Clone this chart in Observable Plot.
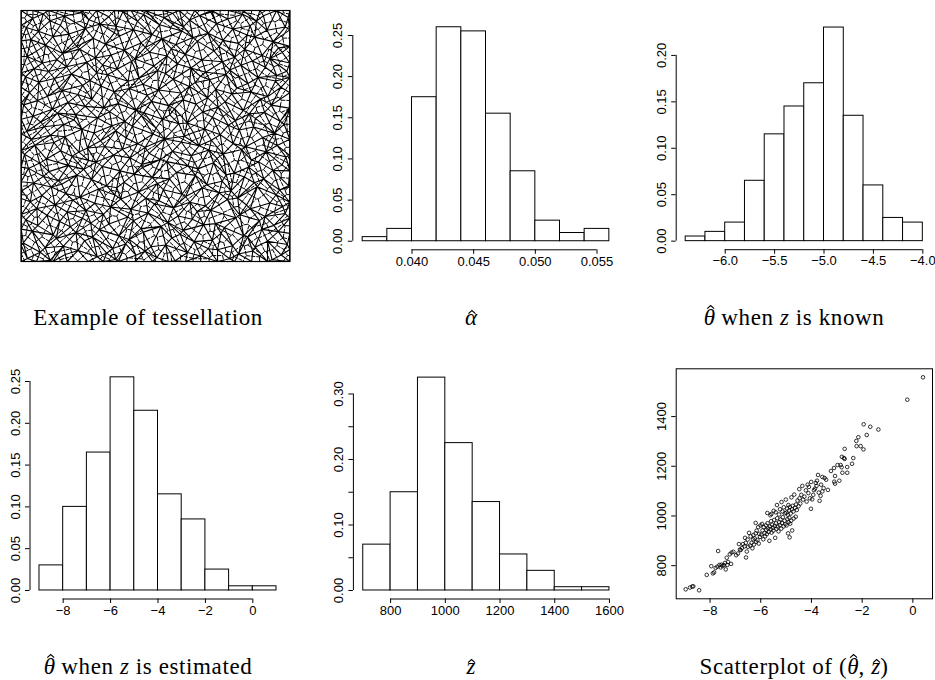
<!DOCTYPE html>
<html><head><meta charset="utf-8">
<script src="https://cdn.jsdelivr.net/npm/d3@7"></script>
<script src="https://cdn.jsdelivr.net/npm/@observablehq/plot@0.6"></script>
<style>
html,body{margin:0;padding:0;background:#fff;}
#page{position:relative;width:935px;height:680px;overflow:hidden;background:#fff;}
.panel{position:absolute;}
.panel svg{overflow:visible;}
.cap{position:absolute;font-family:"Liberation Serif","DejaVu Serif",serif;font-size:23px;letter-spacing:0.6px;white-space:nowrap;line-height:23px;transform:translateX(-50%);color:#000;}
.acc{position:relative;display:inline-block;letter-spacing:0;}
.acc svg.hat{position:absolute;left:50%;margin-left:-3px;overflow:visible;}
.acc svg.hat.hi{top:-1px;}
.acc svg.hat.lo{top:4px;}
</style></head><body><div id="page"></div>
<script>
// ---------------- data ----------------
// Tessellation vertices (0..1000 square), interior points
const tessX = [
23,71,108,164,212,283,318,352,427,461,505,573,619,668,731,776,809,862,934,968,
8,89,131,157,236,266,341,389,402,483,538,561,644,697,712,787,843,871,917,991,
41,62,119,183,204,291,327,364,446,455,521,592,603,679,744,756,828,896,941,957,
17,96,143,171,228,259,306,397,418,472,546,584,637,655,723,799,814,887,908,983,
34,58,126,192,241,274,333,371,409,496,513,567,628,686,705,768,839,853,926,974,
3,77,112,166,219,288,349,356,437,464,529,599,612,673,737,781,806,879,949,962,
46,83,138,151,207,262,318,383,421,488,507,552,649,691,748,763,831,868,903,995,
27,69,103,176,233,279,302,368,449,451,542,578,621,658,716,793,847,884,937,971,
12,94,147,189,215,251,344,377,405,476,518,563,633,699,729,752,821,857,912,986,
38,51,122,163,247,296,311,391,433,462,534,596,607,662,708,789,836,899,924,953,
21,86,109,158,226,271,338,352,414,491,502,587,641,683,741,771,812,865,943,979,
44,73,135,197,203,284,329,386,448,457,526,553,618,676,712,797,849,872,906,964,
9,61,116,174,238,263,307,361,427,485,549,571,603,651,733,759,827,891,931,998,
31,98,141,152,211,297,346,372,402,469,511,595,626,694,724,784,803,856,918,967,
16,66,124,187,229,256,321,398,439,453,537,566,648,667,702,763,844,882,947,951,
48,79,102,169,244,281,303,357,411,494,508,582,632,687,749,776,818,861,909,989,
22,57,133,155,218,276,335,384,424,478,543,559,611,673,718,795,832,897,926,972,
36,91,118,194,207,268,314,366,446,462,524,576,639,656,737,751,809,869,938,958,
19,64,146,178,239,293,347,353,418,487,515,598,604,696,727,788,841,852,915,983,
43,82,107,161,226,252,326,379,433,456,532,564,627,664,706,769,824,876,902,994
];
const tessY = [
12,37,5,28,44,19,33,8,25,41,16,3,36,22,47,11,30,42,7,26,
74,55,92,61,83,97,52,70,88,59,66,94,79,51,85,63,98,57,81,68,
121,143,106,138,115,127,149,102,131,117,140,109,124,146,112,135,103,128,144,119,
166,184,159,197,172,153,188,177,162,193,155,181,168,199,151,174,186,163,179,191,
238,211,226,245,203,232,217,249,208,229,242,214,236,221,204,247,225,210,233,219,
282,263,297,271,256,289,265,294,277,252,286,268,259,293,274,281,253,298,266,285,
313,339,322,308,344,327,301,316,348,335,311,329,343,306,320,345,337,314,329,302,
371,392,358,383,367,396,379,361,387,374,398,355,381,369,393,352,376,397,363,385,
427,408,441,419,436,403,424,447,413,431,406,439,421,444,411,428,446,404,437,416,
486,463,474,497,452,481,458,492,469,455,488,476,499,461,483,470,457,494,478,462,
518,537,503,546,527,512,541,521,539,508,532,549,514,528,505,543,524,536,511,547,
579,556,591,564,585,572,597,558,581,593,567,584,552,596,575,561,588,570,594,559,
624,641,607,633,618,646,612,629,603,638,621,609,644,627,615,636,602,648,623,611,
672,658,693,681,665,699,676,654,689,662,683,671,697,652,686,668,691,675,657,694,
736,714,729,747,702,721,744,718,731,706,749,726,713,738,724,745,709,733,719,741,
768,791,757,776,794,752,783,766,798,779,761,787,771,754,796,763,782,799,774,758,
817,838,804,829,846,811,823,842,807,834,819,848,826,803,839,814,845,821,809,833,
884,862,896,873,857,889,866,898,871,853,887,864,892,878,856,881,869,894,876,851,
932,917,941,906,928,946,911,937,923,904,943,918,935,909,948,926,902,939,921,934,
968,987,959,978,991,963,975,996,957,984,971,989,962,980,993,966,985,958,979,972
];
// Tessellation vertices lying on the window border
const tessBorderX = [
0,57,118,171,249,306,362,425,489,547,612,668,731,795,858,917,1000,
0,44,103,166,228,281,347,409,463,528,589,646,709,772,826,889,951,1000,
0,0,0,0,0,0,0,0,0,0,0,0,0,0,0,
1000,1000,1000,1000,1000,1000,1000,1000,1000,1000,1000,1000,1000,1000,1000
];
const tessBorderY = [
0,0,0,0,0,0,0,0,0,0,0,0,0,0,0,0,0,
1000,1000,1000,1000,1000,1000,1000,1000,1000,1000,1000,1000,1000,1000,1000,1000,1000,1000,
64,129,187,251,318,376,442,509,567,631,694,752,818,879,941,
48,112,173,236,297,361,423,487,548,606,672,733,791,857,923
];

// alpha-hat histogram (relative frequencies)
const alphaBreaks = [0.036,0.038,0.040,0.042,0.044,0.046,0.048,0.050,0.052,0.054,0.056];
const alphaFreq   = [0.005,0.015,0.175,0.26,0.255,0.155,0.085,0.025,0.01,0.015];
const alphaTicksX = [0.040,0.045,0.050,0.055];
const alphaTicksY = [0,0.05,0.10,0.15,0.20,0.25];

// theta-hat when z is known
const thetaKnownBreaks = [-6.4,-6.2,-6.0,-5.8,-5.6,-5.4,-5.2,-5.0,-4.8,-4.6,-4.4,-4.2,-4.0];
const thetaKnownFreq   = [0.005,0.01,0.02,0.065,0.115,0.145,0.17,0.23,0.135,0.06,0.025,0.02];
const thetaKnownTicksX = [-6.0,-5.5,-5.0,-4.5,-4.0];
const thetaKnownTicksY = [0,0.05,0.10,0.15,0.20];

// theta-hat when z is estimated
const thetaEstBreaks = [-9,-8,-7,-6,-5,-4,-3,-2,-1,0,1];
const thetaEstFreq   = [0.03,0.1,0.165,0.255,0.215,0.115,0.085,0.025,0.005,0.005];
const thetaEstTicksX = [-8,-6,-4,-2,0];
const thetaEstTicksY = [0,0.05,0.10,0.15,0.20,0.25];

// z-hat
const zBreaks = [700,800,900,1000,1100,1200,1300,1400,1500,1600];
const zFreq   = [0.07,0.15,0.325,0.225,0.135,0.055,0.03,0.005,0.005];
const zTicksX = [800,1000,1200,1400,1600];
const zTicksY = [0,0.05,0.10,0.15,0.20,0.25,0.30];
const zLabelsY = [0,0.10,0.20,0.30];

// scatterplot (theta-hat, z-hat)
const scatterTheta = [
-8.96,-8.79,-8.70,-8.66,-8.43,-8.13,
-7.95,-7.89,-7.84,-7.78,-7.71,-7.63,-7.58,-7.51,-7.45,-7.38,-7.68,-7.34,-7.32,-7.29,-7.17,-7.15,-7.08,-7.41,-7.55,-7.22,
-6.97,-6.90,-6.86,-6.82,-6.79,-6.74,-6.70,-6.64,-6.59,-6.58,-6.55,-6.50,-6.42,-6.36,-6.33,-6.27,-6.18,-6.08,
-6.46,-6.40,-6.30,-6.29,-6.24,-6.20,-6.20,-6.16,-6.13,-6.10,-6.06,-6.03,-6.62,-6.52,-6.01,
-5.98,-5.95,-5.93,-5.90,-5.88,-5.85,-5.83,-5.80,-5.78,-5.76,-5.73,-5.71,-5.69,-5.66,-5.64,-5.61,-5.59,-5.57,-5.55,-5.52,
-5.50,-5.47,-5.45,-5.43,-5.40,-5.38,-5.35,-5.33,-5.30,-5.27,-5.25,-5.22,-5.19,-5.16,-5.13,-5.10,-5.06,-5.03,
-5.62,-5.74,-5.58,-5.49,-5.41,-5.36,-5.28,-5.24,-5.18,-5.14,-5.09,-5.05,-5.01,
-4.01,-4.02,-4.10,-4.22,-4.36,-4.86,
-4.98,-4.95,-4.92,-4.90,-4.87,-4.84,-4.80,-4.76,-4.70,-4.62,
-4.99,-4.96,-4.93,-4.91,-4.88,-4.85,-4.82,-4.79,-4.77,-4.74,-4.71,-4.68,-4.65,-4.61,-4.58,-4.55,-4.51,-4.47,-4.44,-4.40,-4.33,-4.28,-4.19,-4.12,-4.06,
-4.48,-4.15,
-3.07,-3.10,-3.07,-3.23,-3.11,-3.35,-3.57,-3.68,-3.64,-3.48,-3.57,-3.74,-3.83,-3.80,-3.86,-3.97,
-3.93,-3.71,-3.90,-3.78,-3.62,-3.52,-3.42,
-2.06,-2.22,-2.15,-2.23,-2.35,-2.40,-2.59,-2.59,-2.72,-2.69,-2.78,-2.81,-2.85,-2.80,-2.69,-2.90,-2.97,
-1.36,-1.68,-1.94,-1.82,-1.95,
-0.22,0.40
];
const scatterZ = [
705,712,716,717,701,763,
798,769,773,791,796,803,793,799,802,785,859,832,803,815,807,853,856,811,804,846,
842,849,887,865,863,871,887,878,892,833,857,876,881,892,870,885,896,889,
932,918,906,923,910,972,930,941,903,955,928,916,912,905,962,
925,968,942,906,955,931,918,962,944,927,971,950,936,900,958,947,979,933,965,952,
941,984,960,912,970,948,991,957,938,975,963,986,949,972,995,958,981,967,
1003,1012,1008,1021,1015,1044,1006,1027,1056,1018,1035,1011,1066,
1137,1029,1117,1103,1121,914,
962,987,930,975,993,969,981,942,990,997,
1013,1030,1005,1044,1022,1036,1010,1075,1027,1041,1018,1086,1033,1046,1024,1062,1039,1071,1050,1085,1066,1078,1058,1092,1071,
1108,1126,
1161,1138,1130,1181,1193,1105,1099,1061,1081,1153,1157,1165,1133,1121,1110,1067,
1085,1094,1104,1142,1126,1112,1146,
1281,1281,1317,1302,1233,1210,1197,1174,1233,1270,1174,1196,1205,1238,1230,1142,1205,
1348,1359,1369,1326,1268,
1468,1558
];
const scatterTicksX = [-8,-6,-4,-2,0];
const scatterTicksY = [800,1000,1200,1400];

// ---------------- helpers ----------------
const AXIS_FONT = "'Liberation Sans', Arial, Helvetica, sans-serif";
const pad4 = ([lo, hi]) => { const r = hi - lo; return [lo - 0.04 * r, hi + 0.04 * r]; };

function axes(xTicks, yTicks, xFmt, yFmt) {
  return [
    Plot.axisX({ticks: xTicks, tickFormat: xFmt, tickSize: 4.5, tickPadding: 2, label: null,
      fontSize: 13, fontFamily: AXIS_FONT, stroke: "black", fill: "black"}),
    Plot.axisY({ticks: yTicks, tickFormat: yFmt, tickSize: 4.5, tickPadding: 6, tickRotate: -90,
      textAnchor: "middle", lineAnchor: "bottom", label: null,
      fontSize: 13, fontFamily: AXIS_FONT, stroke: "black", fill: "black"})
  ];
}

function histPlot({breaks, freq, xTicks, yTicks, xFmt, yFmt, width, height, m}) {
  const bins = freq.map((f, i) => ({lo: breaks[i], hi: breaks[i + 1], base: 0, f}));
  const xd = pad4(d3.extent(breaks));
  const yd = pad4([0, d3.max(freq)]);
  return Plot.plot({
    width, height,
    marginLeft: m[0], marginRight: m[1], marginTop: m[2], marginBottom: m[3],
    x: {domain: xd, label: null}, y: {domain: yd, label: null},
    style: {fontFamily: AXIS_FONT, fontSize: "13px", background: "transparent", overflow: "visible"},
    marks: [
      Plot.rect(bins, {x1: "lo", x2: "hi", y1: "base", y2: "f", fill: "white", stroke: "black", strokeWidth: 1}),
      Plot.ruleY([{y: yd[0], a: xTicks[0], b: xTicks[xTicks.length - 1]}], {y: "y", x1: "a", x2: "b", stroke: "black"}),
      Plot.ruleX([{x: xd[0], a: yTicks[0], b: yTicks[yTicks.length - 1]}], {x: "x", y1: "a", y2: "b", stroke: "black"}),
      ...axes(xTicks, yTicks, xFmt, yFmt)
    ]
  });
}

function place(el, left, top) {
  const d = document.createElement("div");
  d.className = "panel";
  d.style.left = left + "px";
  d.style.top = top + "px";
  d.appendChild(el);
  document.getElementById("page").appendChild(d);
}

function caption(html, cx, baseline) {
  const d = document.createElement("div");
  d.className = "cap";
  d.innerHTML = html;
  d.style.left = cx + "px";
  d.style.top = (baseline - 19.3) + "px";
  document.getElementById("page").appendChild(d);
}
// circumflex accent drawn as a small caret above the (italic) letter
const caret = cls => `<svg class="hat ${cls}" width="8" height="4" viewBox="0 0 8 4"><polyline points="0.5,3.6 4,0.5 7.5,3.6" fill="none" stroke="black" stroke-width="1.1"/></svg>`;
const hatHi = s => `<span class="acc"><i>${s}</i>${caret("hi")}</span>`;
const hatLo = s => `<span class="acc"><i>${s}</i>${caret("lo")}</span>`;

// ---------------- panels ----------------
const tessPts = tessX.map((x, i) => [x, tessY[i]])
  .concat(tessBorderX.map((x, i) => [x, tessBorderY[i]]));

place(Plot.plot({
  width: 310, height: 280,
  marginLeft: 20.7, marginRight: 20.7, marginTop: 10, marginBottom: 19,
  x: {domain: d3.extent(tessBorderX), axis: null},
  y: {domain: d3.extent(tessBorderY), axis: null},
  style: {background: "transparent"},
  marks: [
    Plot.voronoiMesh(tessPts, {stroke: "black", strokeOpacity: 1, strokeWidth: 1, strokeDasharray: "4,1"}),
    Plot.delaunayMesh(tessPts, {stroke: "black", strokeOpacity: 1, strokeWidth: 1.1}),
    Plot.frame({stroke: "black", strokeWidth: 1.2})
  ]
}), 0, 0);

place(histPlot({breaks: alphaBreaks, freq: alphaFreq, xTicks: alphaTicksX, yTicks: alphaTicksY,
  xFmt: d3.format(".3f"), yFmt: d3.format(".2f"), width: 310, height: 280, m: [42.3, 1.3, 18.2, 30.7]}), 310, 0);

place(histPlot({breaks: thetaKnownBreaks, freq: thetaKnownFreq, xTicks: thetaKnownTicksX, yTicks: thetaKnownTicksY,
  xFmt: d3.format(".1f"), yFmt: d3.format(".2f"), width: 315, height: 280, m: [55.7, 3.2, 18.5, 30.8]}), 620, 0);

place(histPlot({breaks: thetaEstBreaks, freq: thetaEstFreq, xTicks: thetaEstTicksX, yTicks: thetaEstTicksY,
  xFmt: d3.format("d"), yFmt: d3.format(".2f"), width: 310, height: 290, m: [29.5, 24.5, 28.3, 31.5]}), 0, 340);

place(histPlot({breaks: zBreaks, freq: zFreq, xTicks: zTicksX, yTicks: zTicksY,
  xFmt: d3.format("d"), yFmt: d => zLabelsY.some(v => Math.abs(v - d) < 1e-9) ? d3.format(".2f")(d) : "",
  width: 310, height: 290, m: [42.9, 1.2, 28.6, 31.5]}), 310, 340);

place(Plot.plot({
  width: 315, height: 290,
  marginLeft: 55.7, marginRight: 3, marginTop: 28.3, marginBottom: 31.7,
  x: {domain: pad4(d3.extent(scatterTheta)), label: null},
  y: {domain: pad4(d3.extent(scatterZ)), label: null},
  style: {fontFamily: AXIS_FONT, fontSize: "13px", background: "transparent", overflow: "visible"},
  marks: [
    Plot.frame({stroke: "black"}),
    Plot.dot(scatterTheta, {x: scatterTheta, y: scatterZ, r: 1.8, stroke: "black", strokeWidth: 0.8, fill: "none"}),
    ...axes(scatterTicksX, scatterTicksY, d3.format("d"), d3.format("d"))
  ]
}), 620, 340);

// ---------------- captions ----------------
caption("Example of tessellation", 148, 325);
caption(hatLo("&alpha;"), 471, 325);
caption(hatHi("&theta;") + " when <i>z</i> is known", 794, 325);
caption(hatHi("&theta;") + " when <i>z</i> is estimated", 148, 674);
caption(hatLo("z"), 471, 674);
caption("Scatterplot of (" + hatHi("&theta;") + ", " + hatLo("z") + ")", 794, 674);
</script></body></html>
